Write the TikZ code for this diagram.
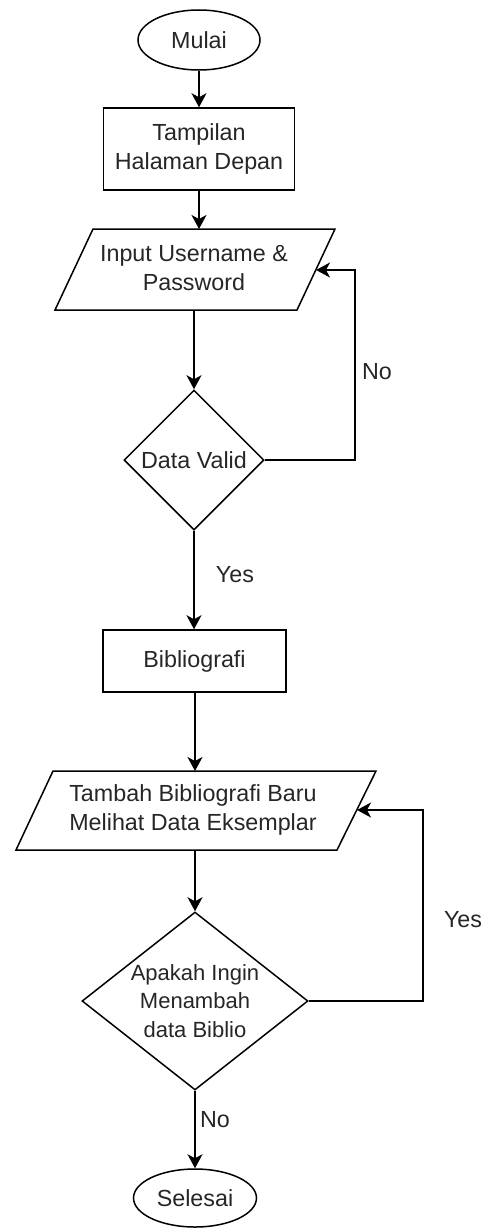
\documentclass[tikz,border=0pt]{standalone}
\usepackage{fontspec}
\setmainfont{Liberation Sans}
\usetikzlibrary{shapes.geometric,arrows.meta}
\begin{document}
\begin{tikzpicture}[x=1pt,y=-1pt,
  line width=1.5pt,
  every node/.style={font=\fontsize{23.3}{29}\selectfont, align=center, inner sep=0pt, text=black!85},
  terminal/.style={draw=black, ellipse, minimum width=122pt, minimum height=60pt},
  process/.style={draw=black, rectangle},
  decision/.style={draw=black, diamond},
  flow/.style={draw=black, -{Stealth[length=14pt,width=15pt,inset=4pt]}},
  lbl/.style={}
]
\useasboundingbox (0,0) rectangle (486,1228);

% --- shapes ---
\node[terminal] (mulai) at (199,40) {Mulai};
\node[process, minimum width=191pt, minimum height=82pt] (tampil) at (199,149)
  {Tampilan\\Halaman Depan};

% login input (parallelogram)
\coordinate (p1bl) at (55,310);
\coordinate (p1br) at (297,310);
\coordinate (p1tr) at (335,229);
\coordinate (p1tl) at (93,229);
\draw (p1bl) -- (p1br) -- (p1tr) -- (p1tl) -- cycle;
\node (input) at (194,268) {Input Username \&\\Password};

\node[decision, minimum width=140pt, minimum height=140pt] (valid) at (194,460) {Data Valid};

\node[process, minimum width=183pt, minimum height=62pt] (biblio) at (194.5,661) {Bibliografi};

% bibliography input (parallelogram)
\coordinate (p2bl) at (16,850);
\coordinate (p2br) at (337,850);
\coordinate (p2tr) at (376,771);
\coordinate (p2tl) at (53,771);
\draw (p2bl) -- (p2br) -- (p2tr) -- (p2tl) -- cycle;
\node (tambah) at (193,810) {Tambah Bibliografi Baru\\Melihat Data Eksemplar};

\node[decision, aspect=1.27, minimum width=226pt, minimum height=178pt,
      font=\fontsize{22}{28.5}\selectfont] (tanya) at (195,1001)
  {Apakah Ingin\\Menambah\\data Biblio};

\node[terminal, minimum width=123pt, minimum height=58pt] (selesai) at (195,1198) {Selesai};

% --- connectors ---
\coordinate (r1) at (355,270);
\coordinate (p1in) at (316,270);
\coordinate (r2) at (423,810);
\coordinate (p2in) at (357,810);

\draw[flow] (mulai.south) -- (mulai.south |- tampil.north);
\draw[flow] (tampil.south) -- (tampil.south |- p1tl);
\draw[flow] (valid.north |- p1bl) -- (valid.north);
\draw[flow] (valid.east) -| (r1) -- (p1in);
\draw[flow] (valid.south) -- (valid.south |- biblio.north);
\draw[flow] (tanya.north |- biblio.south) -- (tanya.north |- p2tl);
\draw[flow] (tanya.north |- p2bl) -- (tanya.north);
\draw[flow] (tanya.east) -| (r2) -- (p2in);
\draw[flow] (tanya.south) -- (selesai.north);

% --- branch labels ---
\node[lbl] (no1) at (377,372) {No};
\node[lbl] (yes1) at (235,575) {Yes};
\node[lbl] (yes2) at (463,920) {Yes};
\node[lbl] (no2) at (215,1120) {No};
\end{tikzpicture}
\end{document}
